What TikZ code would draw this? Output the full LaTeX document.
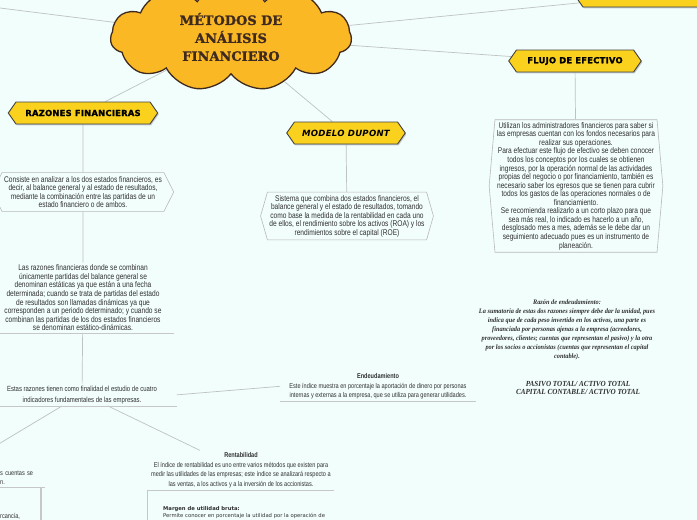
\documentclass[tikz,border=0pt]{standalone}
\usepackage{fontspec}
\usetikzlibrary{shapes.symbols, shadows, backgrounds}

\setmainfont{Liberation Sans}
\newfontfamily\titulofont{DejaVu Serif}[BoldFeatures={FakeBold=1.2}]
\newfontfamily\rotulofont{DejaVu Sans}[LetterSpace=3, BoldFeatures={FakeBold=1.6}]
\newfontfamily\textofont{Liberation Sans}[FakeStretch=0.8]
\newfontfamily\margenfont{DejaVu Sans}
\newfontfamily\goticafont{Liberation Serif}[FakeStretch=0.92]

\definecolor{fondo}{RGB}{242,254,252}
\definecolor{nube}{RGB}{251,184,37}
\definecolor{bordenube}{RGB}{62,42,30}
\definecolor{amarillo}{RGB}{250,210,30}
\definecolor{linea}{RGB}{190,194,194}
\definecolor{texto}{RGB}{48,48,48}

\tikzset{
  rotulo/.style={shape=signal, signal to=east and west, signal pointer angle=110,
    fill=amarillo, draw=black!75, line width=0.9pt, minimum height=22pt, inner sep=2pt,
    font=\rotulofont\bfseries\fontsize{8.4}{9}\selectfont,
    drop shadow={shadow xshift=1pt, shadow yshift=-1.5pt, fill=black!40, opacity=.5}},
  caja/.style={shape=signal, signal to=east and west, draw=black!28, line width=0.6pt,
    fill=fondo, align=center, inner sep=2pt, text=texto,
    font=\textofont\fontsize{8.3}{8.6}\selectfont},
  nota/.style={align=center, inner sep=2pt, text=texto},
  conector/.style={draw=linea, line width=0.7pt},
  subrayado/.style={draw=black!22, line width=0.9pt},
}

\begin{document}
\begin{tikzpicture}[x=1bp, y=-1bp]
  % Define dimensions
  \def\ancho{697}
  \def\alto{520}
  \useasboundingbox (0,0) rectangle (\ancho,\alto);
  \clip (0,0) rectangle (\ancho,\alto);
  \begin{scope}[on background layer]
    \fill[fondo] (0,0) rectangle (\ancho,\alto);
  \end{scope}

  % Central cloud
  \node[shape=cloud, cloud puffs=11, cloud puff arc=115, aspect=2.3, fill=nube,
    draw=bordenube, line width=1.3pt, minimum width=242pt, minimum height=108pt,
    align=center, text=bordenube,
    font=\titulofont\bfseries\fontsize{13}{18}\selectfont] (metodos) at (231,37)
    {MÉTODOS DE\\ANÁLISIS\\FINANCIERO};

  % Main topics
  \node[rotulo, minimum width=150pt] (razones) at (83,113) {RAZONES FINANCIERAS};
  \node[rotulo, minimum width=119pt, font=\rotulofont\bfseries\itshape\fontsize{8.6}{9}\selectfont]
    (dupont) at (346,133) {MODELO DUPONT};
  \node[rotulo, minimum width=133pt] (flujo) at (575,61) {FLUJO DE EFECTIVO};
  \node[rotulo, minimum width=150pt] (arriba) at (650,-4) {};
  \coordinate (izquierda) at (0,8);

  % Razones financieras branch
  \node[caja, signal pointer angle=126, minimum height=39pt] (consiste) at (83,192)
    {Consiste en analizar a los dos estados financieros, es\\
     decir, al balance general y al estado de resultados,\\
     mediante la combinación entre las partidas de un\\
     estado financiero o de ambos.};
  \node[nota, anchor=south, minimum width=182pt, font=\textofont\fontsize{8.3}{8.6}\selectfont]
    (estaticas) at (83,333)
    {Las razones financieras donde se combinan\\
     únicamente partidas del balance general se\\
     denominan estáticas ya que están a una fecha\\
     determinada; cuando se trata de partidas del estado\\
     de resultados son llamadas dinámicas ya que\\
     corresponden a un periodo determinado; y cuando se\\
     combinan las partidas de los dos estados financieros\\
     se denominan estático-dinámicas.};
  \node[nota, anchor=south, minimum width=190pt, font=\textofont\fontsize{7.5}{11}\selectfont]
    (finalidad) at (82,406)
    {Estas razones tienen como finalidad el estudio de cuatro\\
     indicadores fundamentales de las empresas.};
  \node[nota, anchor=south, minimum width=196pt, font=\textofont\fontsize{7}{9.3}\selectfont]
    (endeudamiento) at (378,401)
    {\textbf{Endeudamiento}\\
     Este índice muestra en porcentaje la aportación de dinero por personas\\
     internas y externas a la empresa, que se utiliza para generar utilidades.};
  \node[nota, anchor=south, minimum width=187pt, font=\textofont\fontsize{7}{9.6}\selectfont]
    (rentabilidad) at (241,490)
    {\textbf{Rentabilidad}\\
     El índice de rentabilidad es uno entre varios métodos que existen para\\
     medir las utilidades de las empresas; este índice se analizará respecto a\\
     las ventas, a los activos y a la inversión de los accionistas.};
  \node[anchor=north west, align=left, inner sep=0, text=texto,
    font=\margenfont\fontsize{5.3}{7.5}\selectfont] (margen) at (163,506)
    {\textbf{Margen de utilidad bruta:}\\
     Permite conocer en porcentaje la utilidad por la operación de};
  \node[nota, anchor=south west, text width=43pt, align=left,
    font=\textofont\fontsize{7}{9}\selectfont] (cuentas) at (-2,487)
    {s cuentas se\\n.};
  \node[nota, anchor=west, inner sep=0, font=\textofont\fontsize{7}{9}\selectfont]
    (mercancia) at (0,516) {rcancía,};
  \coordinate (haciacuentas) at (-8,448);

  % Razon de endeudamiento
  \node[nota, font=\goticafont\bfseries\itshape\fontsize{6.9}{9}\selectfont] (razonend) at (567,330)
    {Razón de endeudamiento:\\
     La sumatoria de estas dos razones siempre debe dar la unidad, pues\\
     indica que de cada peso invertido en los activos, una parte es\\
     financiada por personas ajenas a la empresa (acreedores,\\
     proveedores, clientes; cuentas que representan el pasivo) y la otra\\
     por los socios o accionistas (cuentas que representan el capital\\
     contable).};
  \node[nota, font=\goticafont\bfseries\itshape\fontsize{7.8}{8.8}\selectfont] (formulas) at (578,388)
    {PASIVO TOTAL/ ACTIVO TOTAL\\CAPITAL CONTABLE/ ACTIVO TOTAL};

  % Modelo DuPont and flujo de efectivo
  \node[caja, signal pointer angle=148, minimum height=48pt] (sistema) at (347,216)
    {Sistema que combina dos estados financieros, el\\
     balance general y el estado de resultados, tomando\\
     como base la medida de la rentabilidad en cada uno\\
     de ellos, el rendimiento sobre los activos (ROA) y los\\
     rendimientos sobre el capital (ROE)};
  \node[caja, signal pointer angle=170, minimum height=133pt] (utilizan) at (576,186)
    {Utilizan los administradores financieros para saber si\\
     las empresas cuentan con los fondos necesarios para\\
     realizar sus operaciones.\\
     Para efectuar este flujo de efectivo se deben conocer\\
     todos los conceptos por los cuales se obtienen\\
     ingresos, por la operación normal de las actividades\\
     propias del negocio o por financiamiento, también es\\
     necesario saber los egresos que se tienen para cubrir\\
     todos los gastos de las operaciones normales o de\\
     financiamiento.\\
     Se recomienda realizarlo a un corto plazo para que\\
     sea más real, lo indicado es hacerlo a un año,\\
     desglosado mes a mes, además se le debe dar un\\
     seguimiento adecuado pues es un instrumento de\\
     planeación.};

  % Underlines and box edges
  \draw[subrayado] (estaticas.south west) -- (estaticas.south east);
  \draw[subrayado] (finalidad.south west) -- (finalidad.south east);
  \draw[subrayado] (endeudamiento.south west) -- (endeudamiento.south east);
  \draw[subrayado] (rentabilidad.south west) -- (rentabilidad.south east);
  \draw[subrayado] (cuentas.south west) -- (cuentas.south east);
  \draw[subrayado, line width=1.5pt] (rentabilidad.south west) -- ++(0,40);
  \draw[subrayado, line width=1.5pt] ([xshift=-4pt]cuentas.south east) -- ++(0,40);

  % Draw connectors
  \begin{scope}[on background layer]
    \draw[conector] (metodos) -- (izquierda);
    \draw[conector] (metodos) -- (razones);
    \draw[conector] (metodos) -- (dupont);
    \draw[conector] (metodos) -- (flujo);
    \draw[conector] (metodos) -- (arriba);
    \draw[conector] (razones) -- (consiste);
    \draw[conector] (consiste) -- (estaticas);
    \draw[conector] (estaticas) -- (finalidad);
    \draw[conector] (finalidad.south) ++(-20,0) -- (haciacuentas);
    \draw[conector] (finalidad.south) ++(26,0) -- (rentabilidad);
    \draw[conector] (finalidad.east) -- (endeudamiento.west);
    \draw[conector] (dupont) -- (sistema);
    \draw[conector] (flujo) -- (utilizan);
  \end{scope}
\end{tikzpicture}
\end{document}
